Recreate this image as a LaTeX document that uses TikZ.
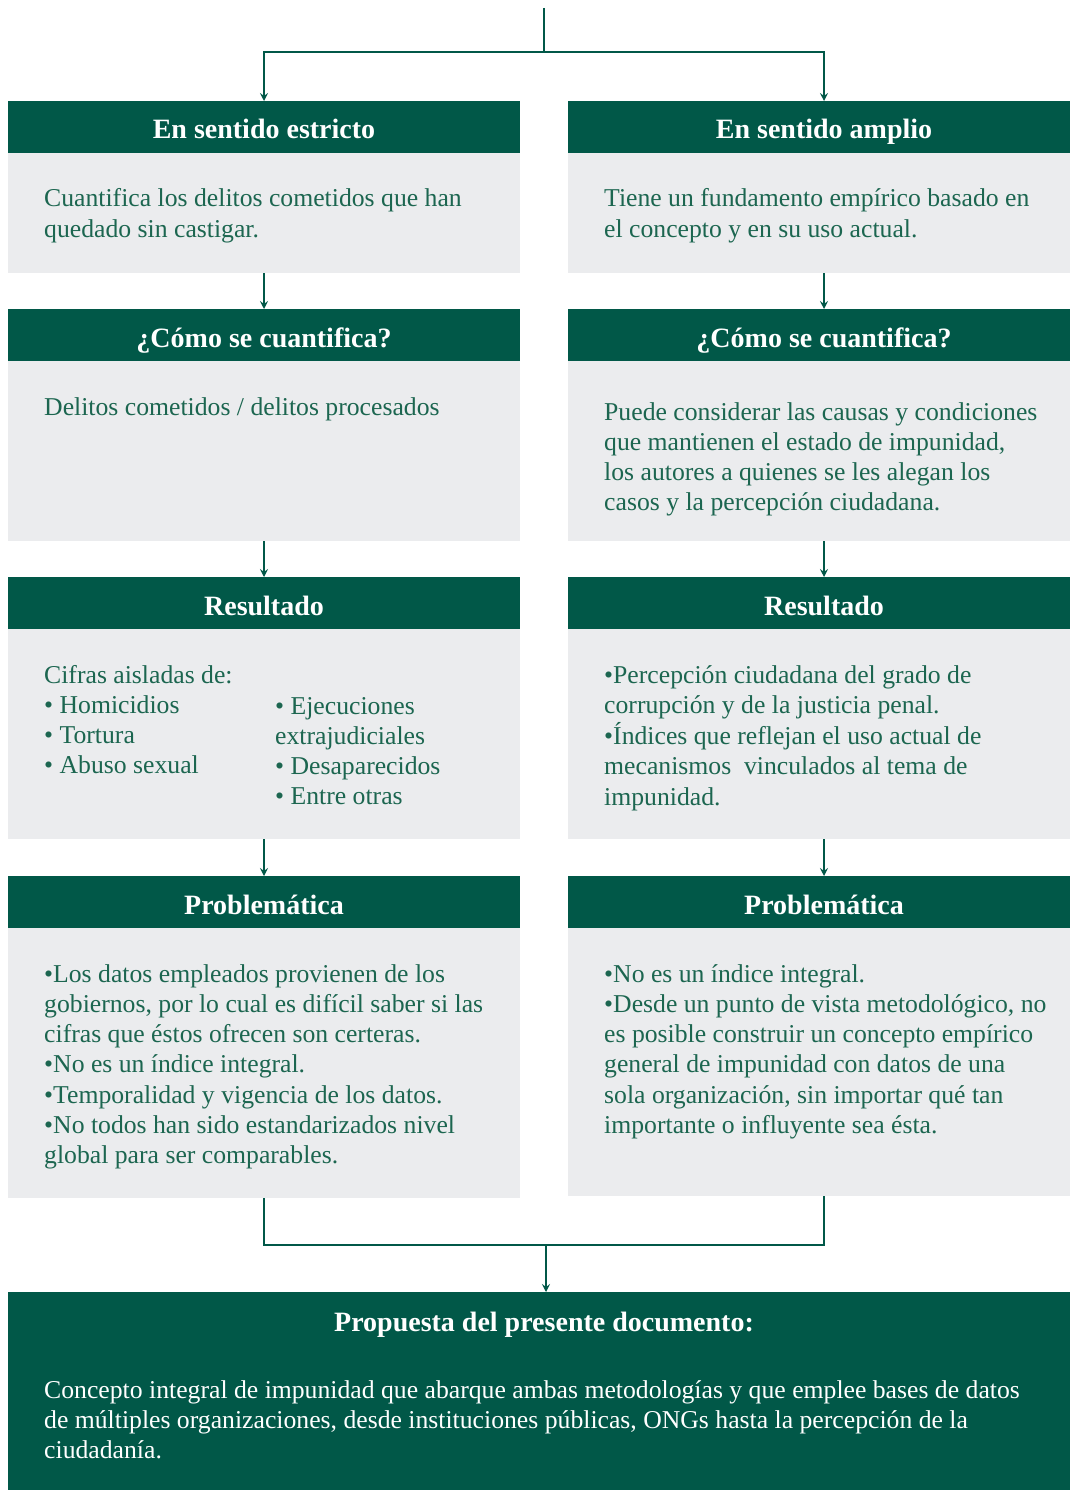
\documentclass[tikz,border=0pt]{standalone}
\usepackage{fontspec}
\setmainfont{Liberation Serif}
\usetikzlibrary{arrows.meta}
\definecolor{dg}{RGB}{1,88,72}
\definecolor{lg}{RGB}{235,236,238}
\definecolor{tg}{RGB}{28,102,80}
\newcommand{\lines}[1]{\begin{tabular}[t]{@{}l@{}}#1\end{tabular}}
\begin{document}
\begin{tikzpicture}[x=1pt,y=-1pt,
  hdr/.style={fill=dg, text=white, font=\bfseries\fontsize{28}{30}\selectfont,
    minimum width=512pt, minimum height=52pt, inner sep=0pt, outer sep=0pt,
    text height=24pt, text depth=0pt},
  bodybox/.style={fill=lg, minimum width=512pt, inner sep=0pt, outer sep=0pt},
  txt/.style={anchor=base west, inner sep=0pt, text=tg, font=\fontsize{25.7}{30.3}\selectfont},
  wtxt/.style={anchor=base west, inner sep=0pt, text=white, font=\fontsize{25.7}{30.3}\selectfont},
  arr/.style={draw=dg, line width=1.8pt, -{Stealth[length=8pt,width=8pt,inset=3pt]}},
  ln/.style={draw=dg, line width=1.8pt}]
\useasboundingbox (0,0) rectangle (1070,1490);
\clip (0,0) rectangle (1070,1490);
% left column
\node[hdr] (h1L) at (264,127) {En sentido estricto};
\node[bodybox, minimum height=120pt] (b1L) at (264,213) {};
\node[hdr] (h2L) at (264,335) {¿Cómo se cuantifica?};
\node[bodybox, minimum height=180pt] (b2L) at (264,451) {};
\node[hdr] (h3L) at (264,603) {Resultado};
\node[bodybox, minimum height=210pt] (b3L) at (264,734) {};
\node[hdr] (h4L) at (264,902) {Problemática};
\node[bodybox, minimum height=270pt] (b4L) at (264,1063) {};
% right column
\node[hdr] (h1R) at (824,127) {En sentido amplio};
\node[bodybox, minimum height=120pt] (b1R) at (824,213) {};
\node[hdr] (h2R) at (824,335) {¿Cómo se cuantifica?};
\node[bodybox, minimum height=180pt] (b2R) at (824,451) {};
\node[hdr] (h3R) at (824,603) {Resultado};
\node[bodybox, minimum height=210pt] (b3R) at (824,734) {};
\node[hdr] (h4R) at (824,902) {Problemática};
\node[bodybox, minimum height=268pt] (b4R) at (824,1062) {};
% final box
\node[fill=dg, minimum width=1072pt, minimum height=208pt, inner sep=0pt, outer sep=0pt] (fin) at (544,1396) {};
\node[anchor=base, inner sep=0pt, text=white, font=\bfseries\fontsize{28}{30}\selectfont] (finT) at (544,1331) {Propuesta del presente documento:};
% texts
\node[txt] (t1L) at (44,207) {\lines{Cuantifica los delitos cometidos que han\\quedado sin castigar.}};
\node[txt] (t1R) at (604,207) {\lines{Tiene un fundamento empírico basado en\\el concepto y en su uso actual.}};
\node[txt] (t2L) at (44,415) {\lines{Delitos cometidos / delitos procesados}};
\node[txt] (t2R) at (604,420) {\lines{Puede considerar las causas y condiciones\\que mantienen el estado de impunidad,\\los autores a quienes se les alegan los\\casos y la percepción ciudadana.}};
\node[txt] (t3La) at (44,683) {\lines{Cifras aisladas de:\\• Homicidios\\• Tortura\\• Abuso sexual}};
\node[txt] (t3Lb) at (275,714) {\lines{• Ejecuciones\\extrajudiciales\\• Desaparecidos\\• Entre otras}};
\node[txt] (t3R) at (604,683) {\lines{•Percepción ciudadana del grado de\\corrupción y de la justicia penal.\\•Índices que reflejan el uso actual de\\mecanismos\ \ vinculados al tema de\\impunidad.}};
\node[txt] (t4L) at (44,982) {\lines{•Los datos empleados provienen de los\\gobiernos, por lo cual es difícil saber si las\\cifras que éstos ofrecen son certeras.\\•No es un índice integral.\\•Temporalidad y vigencia de los datos.\\•No todos han sido estandarizados nivel\\global para ser comparables.}};
\node[txt] (t4R) at (604,982) {\lines{•No es un índice integral.\\•Desde un punto de vista metodológico, no\\es posible construir un concepto empírico\\general de impunidad con datos de una\\sola organización, sin importar qué tan\\importante o influyente sea ésta.}};
\node[wtxt] (tF) at (44,1398) {\lines{Concepto integral de impunidad que abarque ambas metodologías y que emplee bases de datos\\de múltiples organizaciones, desde instituciones públicas, ONGs hasta la percepción de la\\ciudadanía.}};
% connectors
\coordinate (top) at (544,8);
\coordinate (split) at (544,52);
\draw[ln] (top) -- (split);
\draw[arr] (split) -| (h1L.north);
\draw[arr] (split) -| (h1R.north);
\draw[arr] (b1L.south) -- (h2L.north);
\draw[arr] (b2L.south) -- (h3L.north);
\draw[arr] (b3L.south) -- (h4L.north);
\draw[arr] (b1R.south) -- (h2R.north);
\draw[arr] (b2R.south) -- (h3R.north);
\draw[arr] (b3R.south) -- (h4R.north);
\coordinate (join) at (546,1245);
\draw[ln] (b4L.south) |- (join) -| (b4R.south);
\draw[arr] (join) -- (join |- fin.north);
\end{tikzpicture}
\end{document}
